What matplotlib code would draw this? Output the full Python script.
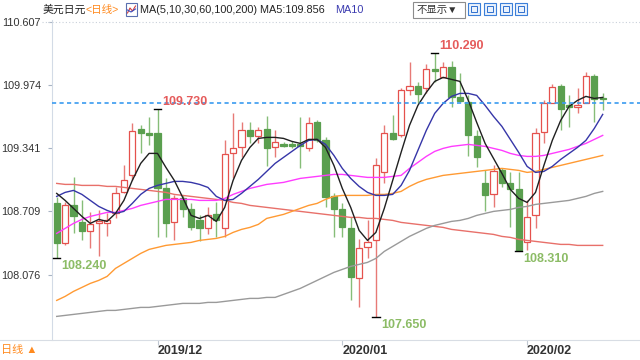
import matplotlib
matplotlib.use("Agg")
import matplotlib.pyplot as plt
from matplotlib.patches import Rectangle
from matplotlib.lines import Line2D

plt.rcParams['font.family'] = ['Liberation Sans', 'Noto Sans CJK SC', 'DejaVu Sans']

# daily candles (USD/JPY), one per trading day
open_ = [108.79, 108.39, 108.77, 108.60, 108.51, 108.59, 108.59, 108.69, 108.90, 109.07,
         109.53, 109.49, 109.49, 108.94, 108.60, 108.84, 108.73, 108.62, 108.54, 108.68,
         108.54, 109.29, 109.35, 109.52, 109.46, 109.53, 109.35, 109.38, 109.38, 109.38,
         109.34, 109.60, 109.42, 108.86, 108.73, 108.54, 108.04, 108.35, 108.42, 109.10,
         109.49, 109.47, 109.92, 109.96, 109.94, 110.13, 110.05, 110.15, 109.85, 109.80,
         109.46, 108.99, 108.88, 109.12, 108.99, 108.93, 108.40, 108.67, 109.50, 109.79,
         109.96, 109.77, 109.75, 109.79, 110.06, 109.84]
high = [108.85, 108.80, 109.05, 108.82, 108.70, 108.72, 108.69, 108.95, 109.17, 109.59,
        109.57, 109.65, 109.73, 109.04, 108.87, 108.87, 108.79, 108.67, 108.75, 108.80,
        109.42, 109.69, 109.60, 109.60, 109.55, 109.66, 109.52, 109.40, 109.41, 109.65,
        109.65, 109.62, 109.45, 108.89, 108.79, 108.65, 108.43, 108.62, 109.24, 109.57,
        109.67, 109.94, 110.20, 110.00, 110.18, 110.29, 110.20, 110.21, 110.09, 109.87,
        109.52, 109.12, 109.17, 109.14, 109.10, 109.10, 108.82, 109.54, 109.82, 109.98,
        109.98, 109.87, 109.94, 110.10, 110.08, 109.89]
low = [108.24, 108.37, 108.49, 108.42, 108.34, 108.26, 108.46, 108.64, 108.89, 109.02,
       109.29, 109.37, 108.45, 108.45, 108.42, 108.65, 108.52, 108.41, 108.48, 108.45,
       108.45, 109.04, 109.25, 109.39, 109.39, 109.16, 109.25, 109.35, 109.34, 109.14,
       109.31, 109.40, 108.75, 108.45, 108.45, 107.82, 107.75, 108.24, 107.65, 108.99,
       109.42, 109.45, 109.87, 109.79, 109.89, 110.00, 110.04, 109.75, 109.80, 109.26,
       109.15, 108.71, 108.75, 108.95, 108.55, 108.31, 108.32, 108.54, 109.39, 109.79,
       109.52, 109.55, 109.69, 109.79, 109.60, 109.72]
close = [108.39, 108.77, 108.66, 108.51, 108.58, 108.61, 108.62, 108.89, 109.02, 109.51,
         109.49, 109.47, 108.94, 108.59, 108.84, 108.73, 108.55, 108.54, 108.67, 108.62,
         109.28, 109.34, 109.52, 109.46, 109.52, 109.34, 109.40, 109.36, 109.36, 109.36,
         109.59, 109.42, 108.85, 108.73, 108.55, 108.05, 108.34, 108.40, 109.17, 109.49,
         109.43, 109.92, 109.96, 109.88, 110.13, 110.11, 110.15, 109.85, 109.81, 109.47,
         109.25, 108.87, 109.11, 108.99, 108.93, 108.32, 108.65, 109.49, 109.79, 109.95,
         109.73, 109.75, 109.77, 110.06, 109.83, 109.83]

# moving averages as drawn on the chart
ma5 = [108.89, 108.82, 108.74, 108.66, 108.59, 108.63, 108.61, 108.69, 108.82, 109.02,
       109.19, 109.29, 109.29, 109.15, 109.02, 108.85, 108.67, 108.64, 108.67, 108.61,
       108.75, 109.02, 109.22, 109.35, 109.44, 109.45, 109.45, 109.44, 109.41, 109.39,
       109.43, 109.43, 109.35, 109.17, 108.94, 108.75, 108.52, 108.42, 108.50, 108.74,
       109.02, 109.30, 109.57, 109.77, 109.90, 110.01, 110.05, 110.03, 110.01, 109.82,
       109.60, 109.39, 109.24, 109.09, 108.93, 108.84, 108.80, 108.90, 109.17, 109.42,
       109.62, 109.76, 109.82, 109.86, 109.84, 109.85]
ma10 = [108.86, 108.90, 108.92, 108.88, 108.82, 108.76, 108.72, 108.69, 108.71, 108.79,
        108.88, 108.94, 108.97, 108.99, 109.01, 109.01, 109.00, 108.98, 108.95, 108.86,
        108.82, 108.83, 108.89, 108.96, 109.03, 109.11, 109.19, 109.25, 109.31, 109.37,
        109.42, 109.43, 109.38, 109.27, 109.14, 109.04, 108.96, 108.90, 108.87, 108.87,
        108.88, 108.97, 109.12, 109.32, 109.52, 109.69, 109.79, 109.86, 109.89, 109.89,
        109.87, 109.77, 109.66, 109.56, 109.43, 109.30, 109.16, 109.10, 109.11, 109.16,
        109.23, 109.29, 109.35, 109.42, 109.54, 109.68]
ma30 = [108.49, 108.54, 108.59, 108.63, 108.66, 108.68, 108.70, 108.70, 108.72, 108.74,
        108.77, 108.79, 108.81, 108.83, 108.83, 108.83, 108.83, 108.82, 108.82, 108.82,
        108.84, 108.88, 108.91, 108.94, 108.96, 108.98, 108.99, 109.00, 109.02, 109.04,
        109.05, 109.06, 109.07, 109.08, 109.08, 109.07, 109.06, 109.05, 109.05, 109.05,
        109.06, 109.07, 109.14, 109.20, 109.26, 109.31, 109.34, 109.36, 109.37, 109.38,
        109.37, 109.36, 109.34, 109.32, 109.29, 109.27, 109.26, 109.26, 109.27, 109.29,
        109.31, 109.33, 109.36, 109.39, 109.43, 109.47]
ma60 = [107.82, 107.86, 107.91, 107.95, 107.99, 108.02, 108.06, 108.14, 108.19, 108.24,
        108.29, 108.33, 108.35, 108.37, 108.38, 108.39, 108.40, 108.42, 108.43, 108.44,
        108.46, 108.50, 108.53, 108.55, 108.58, 108.64, 108.66, 108.68, 108.71, 108.74,
        108.77, 108.79, 108.83, 108.86, 108.87, 108.87, 108.87, 108.87, 108.88, 108.88,
        108.89, 108.91, 108.96, 109.00, 109.03, 109.05, 109.07, 109.08, 109.09, 109.10,
        109.11, 109.12, 109.13, 109.14, 109.13, 109.12, 109.10, 109.11, 109.13, 109.15,
        109.17, 109.19, 109.21, 109.23, 109.25, 109.27]
ma100 = [107.66, 107.67, 107.68, 107.69, 107.70, 107.71, 107.72, 107.72, 107.73, 107.74,
         107.75, 107.75, 107.76, 107.77, 107.78, 107.79, 107.79, 107.79, 107.80, 107.80,
         107.81, 107.82, 107.83, 107.84, 107.84, 107.85, 107.85, 107.88, 107.91, 107.94,
         107.98, 108.02, 108.06, 108.10, 108.13, 108.16, 108.18, 108.20, 108.24, 108.31,
         108.36, 108.41, 108.46, 108.50, 108.54, 108.57, 108.59, 108.61, 108.62, 108.64,
         108.67, 108.69, 108.71, 108.72, 108.73, 108.75, 108.76, 108.78, 108.79, 108.80,
         108.81, 108.82, 108.84, 108.86, 108.89, 108.91]
ma200 = [108.99, 108.98, 108.98, 108.97, 108.97, 108.97, 108.96, 108.96, 108.95, 108.94,
         108.93, 108.92, 108.91, 108.90, 108.88, 108.87, 108.86, 108.85, 108.84, 108.83,
         108.82, 108.80, 108.79, 108.77, 108.76, 108.75, 108.74, 108.73, 108.72, 108.71,
         108.70, 108.69, 108.68, 108.67, 108.66, 108.65, 108.65, 108.64, 108.64, 108.63,
         108.62, 108.60, 108.59, 108.58, 108.57, 108.56, 108.55, 108.53, 108.52, 108.51,
         108.50, 108.49, 108.48, 108.46, 108.45, 108.43, 108.42, 108.41, 108.40, 108.39,
         108.38, 108.38, 108.37, 108.37, 108.37, 108.37]

yticks = [108.076, 108.709, 109.341, 109.974, 110.607]
month_pos = [12, 34, 56]
month_labels = ['2019/12', '2020/01', '2020/02']
last_price = 109.79
# (candle index, value, high/low) for the marked extremes
marks = [(0, 108.240, 'low'), (12, 109.730, 'high'), (38, 107.650, 'low'),
         (45, 110.290, 'high'), (55, 108.310, 'low')]

RED = '#e5514d'
GREEN = '#5a9f4f'
W, H = 640, 360

fig = plt.figure(figsize=(W / 100, H / 100), dpi=100)
fig.patch.set_facecolor('white')
ax = fig.add_axes([52 / W, 20 / H, 588 / W, 320 / H])

n = len(close)
xs = list(range(n))

# candles: wick first, body on top
for i in xs:
    o, h, l, c = open_[i], high[i], low[i], close[i]
    up = c >= o
    col = RED if up else GREEN
    wick = '#e77a76' if up else '#86bd78'
    ax.vlines(i, l, h, color=wick, lw=1, zorder=2)
    body = max(abs(c - o), 0.012)
    ax.bar(i, body, bottom=min(o, c), width=0.72,
           facecolor='white' if up else GREEN, edgecolor=col, lw=0.9, zorder=3)

# moving averages
ma_styles = [(ma200, '#e8706a'), (ma100, '#9a9a9a'), (ma60, '#ff9a33'),
             (ma30, '#ff3cff'), (ma10, '#3636a8'), (ma5, '#202020')]
for vals, col in ma_styles:
    ax.plot(xs, vals, color=col, lw=1.0, zorder=4)

ax.axhline(last_price, color='#3a9bf0', lw=1.2, ls=(0, (2.5, 2)), zorder=5)

# extreme markers
for i, v, kind in marks:
    ax.plot([i - 0.45, i + 0.45], [v, v], color='black', lw=1, zorder=6)
    if kind == 'high':
        txtcol, dy = '#e55b5b', 5.0
    else:
        txtcol, dy = '#8cbc66', -5.5
    ax.annotate('%.3f' % v, (i, v), xytext=(3.5, dy), textcoords='offset points',
                ha='left', va='center', fontsize=9, fontweight='bold',
                color=txtcol, zorder=7)

ax.set_xlim(-0.56, 69.44)
ax.set_ylim(107.424, 110.624)

ax.set_yticks(yticks)
ax.set_yticklabels(['%.3f' % v for v in yticks])
ax.set_xticks(month_pos)
ax.set_xticklabels(month_labels, ha='left', fontweight='bold', fontsize=9, color='#333333')
ax.tick_params(axis='y', direction='out', length=3, width=0.8, color='#a8b4c4',
               labelsize=7.8, labelcolor='#333333', pad=5)
ax.tick_params(axis='x', direction='out', length=3.6, width=0.8, color='#c0c8d2', pad=0)

for s in ['top', 'right', 'bottom']:
    ax.spines[s].set_visible(False)
ax.spines['left'].set_color('#d3dbe6')
ax.spines['left'].set_linewidth(0.8)

# frame lines
fig.add_artist(Line2D([0, 1], [20 / H, 20 / H], color='#d8dde4', lw=0.8))
ty = ax.transData.transform((0, yticks[-1]))[1] / H
fig.add_artist(Line2D([42 / W, 1], [ty, ty], color='#c9d0da', lw=0.8, ls=(0, (1, 2))))


def fx(x):
    return x / W


def fy(y):
    return 1 - y / H


# header row
fig.text(fx(43), fy(10), '美元日元', fontsize=7.8, color='#222222', va='center')
fig.text(fx(86), fy(10), '<日线>', fontsize=7.6, color='#ff8a1e', va='center')
fig.add_artist(Rectangle((fx(126), fy(16)), 11 / W, 13 / H, transform=fig.transFigure,
                         facecolor='white', edgecolor='#5a6fb0', lw=0.8))
fig.add_artist(Line2D([fx(127.5), fx(130), fx(132.5), fx(135.5)],
                      [fy(13), fy(8), fy(11), fy(6)], color='#d23c3c', lw=0.8))
fig.add_artist(Line2D([fx(127.5), fx(131), fx(135.5)],
                      [fy(10), fy(12), fy(9)], color='#3a4fc0', lw=0.8))
fig.text(fx(140), fy(10), 'MA(5,10,30,60,100,200) MA5:109.856', fontsize=7.8,
         color='#222222', va='center')
fig.text(fx(335), fy(10), 'MA10', fontsize=7.8, color='#3b3bb0', va='center')

fig.add_artist(Rectangle((fx(413), fy(18)), 52 / W, 16 / H, transform=fig.transFigure,
                         facecolor='white', edgecolor='#8c8c8c', lw=0.8))
fig.text(fx(417), fy(10), '不显示▼', fontsize=7.5, color='#333333', va='center')
for x0 in [468, 484, 500, 515]:
    fig.add_artist(Rectangle((fx(x0), fy(15)), 12 / W, 12 / H, transform=fig.transFigure,
                             facecolor='#eaf2fc', edgecolor='#3b7fd9', lw=0.8))
    fig.add_artist(Rectangle((fx(x0 + 3), fy(12)), 6 / W, 6 / H, transform=fig.transFigure,
                             facecolor='none', edgecolor='#2f6fcf', lw=0.7))

# bottom-left period switch
fig.text(fx(1), fy(350), '日线 ▲', fontsize=8, color='#ff8a1e', ha='left', va='center')

fig.savefig('out.png', dpi=100)
